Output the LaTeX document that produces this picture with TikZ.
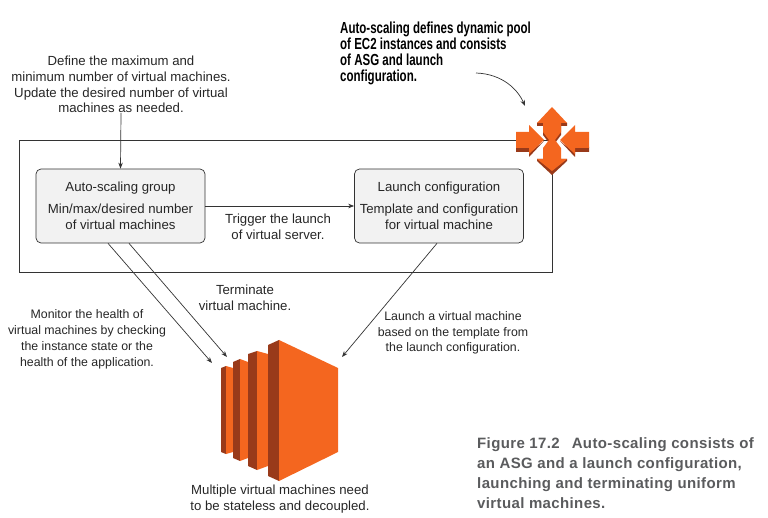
\documentclass[tikz,border=0pt]{standalone}
\usepackage{fontspec}
\setmainfont{Liberation Sans}
\newfontfamily\headfont[FakeStretch=0.72]{Liberation Sans Bold}
\newfontfamily\capfont[LetterSpace=2.5]{Liberation Sans Bold}
\definecolor{awsorange}{HTML}{F4661F}
\definecolor{awsdark}{HTML}{993A1A}
\definecolor{capgray}{HTML}{5A5B5D}
\definecolor{linegray}{HTML}{333333}
\usetikzlibrary{arrows.meta}
\tikzset{
	box/.style={draw=linegray,line width=0.7pt,fill=black!5,rounded corners=5pt,minimum width=169pt,minimum height=74pt,align=center,inner sep=0pt,text=black!85},
	lab/.style={align=center,text=black!85,inner sep=0pt},
	smalllab/.style={lab,font=\fontsize{12.35}{15.8}\selectfont},
	light/.style={fill=awsorange},
	shade/.style={fill=awsdark},
	conn/.style={-{Stealth[length=6pt,width=4.5pt]},draw=linegray,line width=0.7pt}
}
\begin{document}
\begin{tikzpicture}[x=1pt,y=-1pt,font=\fontsize{13.2}{15.8}\selectfont]
		\useasboundingbox (0,0) rectangle (768,518);
		\node (pool) [draw=linegray,line width=0.7pt,minimum width=533pt,minimum height=132pt,inner sep=0pt] at (285.5,206) {};
		\node (asg) [box] at (120.5,206) {Auto-scaling group\\[6pt]Min/max/desired number\\of virtual machines};
		\node (lc) [box] at (439,206) {Launch configuration\\[6pt]Template and configuration\\for virtual machine};
		\node (define) [lab] at (121,84.5) {Define the maximum and\\minimum number of virtual machines.\\Update the desired number of virtual\\machines as needed.};
		\node (trigger) [lab] at (278,226.5) {Trigger the launch\\of virtual server.};
		\node (terminate) [lab] at (245,298) {Terminate\\virtual machine.};
		\node (monitor) [smalllab] at (87,339.5) {Monitor the health of\\virtual machines by checking\\the instance state or the\\health of the application.};
		\node (launch) [smalllab] at (453,333) {Launch a virtual machine\\based on the template from\\the launch configuration.};
		\node (multi) [lab] at (280,499) {Multiple virtual machines need\\to be stateless and decoupled.};
		\node (head) [anchor=north west,align=left,inner sep=0pt,font=\headfont\fontsize{16}{16}\selectfont] at (340,21.5) {Auto-scaling defines dynamic pool\\of EC2 instances and consists\\of ASG and launch\\configuration.};
		\node (caption) [anchor=north west,align=left,inner sep=0pt,text=capgray,font=\capfont\fontsize{15}{20.3}\selectfont] at (477,437) {Figure 17.2\hspace{12pt}Auto-scaling consists of\\an ASG and a launch configuration,\\launching and terminating uniform\\virtual machines.};
		% arrow ends
		\coordinate (ec2a) at (212,363);
		\coordinate (ec2b) at (227,357);
		\coordinate (ec2c) at (342,357);
		\coordinate (curvefrom) at (476,73);
		\coordinate (icon) at (525,106);
		\path[every edge/.append style={conn}]
		(define.south) edge (asg.north)
		(asg.east|-lc) edge (lc.west)
		(asg.south-|108,0) edge (ec2a)
		(asg.south-|129,0) edge (ec2b)
		(lc.south-|437,0) edge (ec2c);
		\draw[conn] (curvefrom) .. controls (503,74) and (518,90) .. (icon);
		% auto-scaling icon
		\fill[shade] (537,123) -- (537,126) -- (543,126) -- (543,135) -- (549,143) -- (555,143) -- (561,135) -- (561,126) -- (567,126) -- (567,123) -- cycle;
		\fill[light] (552,107) -- (567,123) -- (561,123) -- (561,132) -- (555,140) -- (549,140) -- (543,132) -- (543,123) -- (537,123) -- cycle;
		\fill[shade] (537,159) -- (537,161) -- (552,175) -- (567,161) -- (567,159) -- cycle;
		\fill[light] (549,140) -- (555,140) -- (561,148) -- (561,159) -- (567,159) -- (552,171) -- (537,159) -- (543,159) -- (543,148) -- cycle;
		\fill[shade] (516,147) -- (516,152) -- (529,152) -- (529,157) -- (544,141) -- (529,153) -- (529,147) -- cycle;
		\fill[light] (516,132) -- (529,132) -- (529,125) -- (544,140) -- (529,154) -- (529,148) -- (516,148) -- cycle;
		\fill[shade] (589,147) -- (589,152) -- (575,152) -- (575,157) -- (560,141) -- (575,153) -- (575,147) -- cycle;
		\fill[light] (589,132) -- (575,132) -- (575,125) -- (560,140) -- (575,154) -- (575,148) -- (589,148) -- cycle;
		% virtual machines icon
		\fill[shade] (221,368) -- (226,366) -- (226,454) -- (221,452) -- cycle;
		\fill[light] (226,366) -- (233,368) -- (233,452) -- (226,454) -- cycle;
		\fill[shade] (233,362) -- (240,359) -- (240,461) -- (233,458) -- cycle;
		\fill[light] (240,359) -- (248,362) -- (248,458) -- (240,461) -- cycle;
		\fill[shade] (248,354) -- (257,351) -- (257,470) -- (248,466) -- cycle;
		\fill[light] (257,351) -- (268,354) -- (268,466) -- (257,470) -- cycle;
		\fill[shade] (268,345) -- (279,340) -- (279,481) -- (268,476) -- cycle;
		\fill[light] (279,340) -- (338,368) -- (338,452) -- (279,481) -- cycle;
		\end{tikzpicture}
\end{document}
